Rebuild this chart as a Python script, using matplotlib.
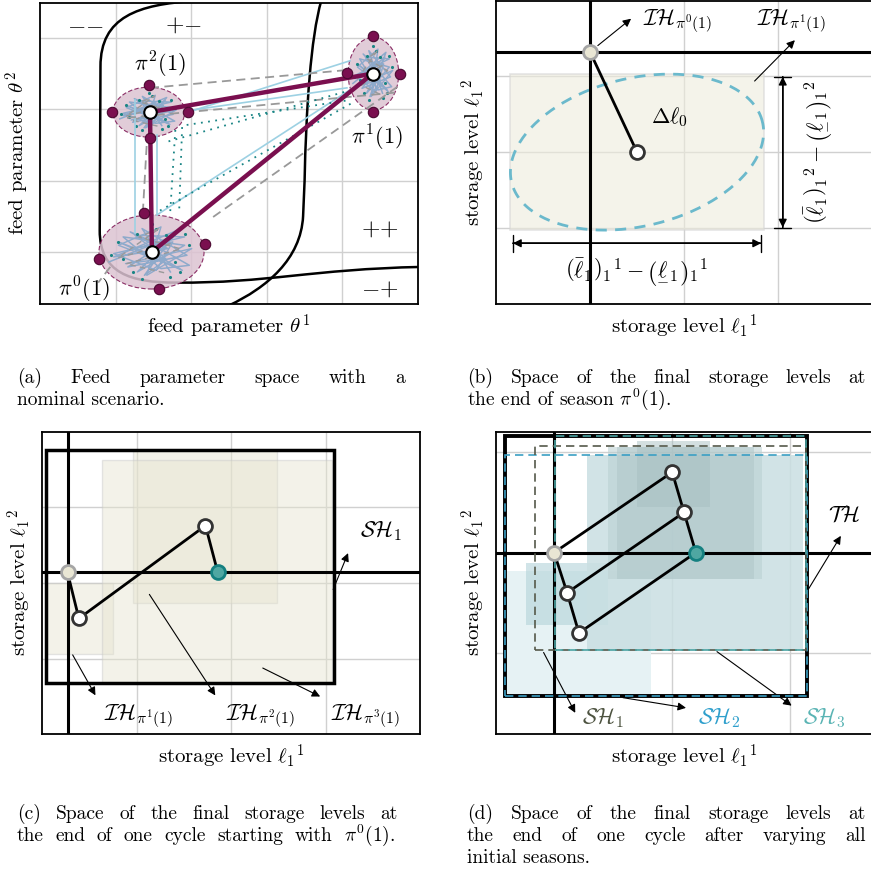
import numpy as np
import matplotlib
matplotlib.use("Agg")
import matplotlib.pyplot as plt
from matplotlib.patches import Rectangle, Ellipse, PathPatch
from matplotlib.path import Path

plt.rcParams['font.family'] = 'cmr10'
plt.rcParams['mathtext.fontset'] = 'cm'
plt.rcParams['axes.unicode_minus'] = False

# ---------------- data ----------------
# (a) feed parameter space: seasons pi0, pi1, pi2
centre_x = [1.48, 4.40, 1.455]
centre_y = [1.00, 3.50, 2.96]
ell_cx = [1.475, 4.41, 1.44]
ell_cy = [1.00, 3.50, 2.96]
ell_w = [1.39, 0.67, 0.95]
ell_h = [1.04, 1.02, 0.70]
sample_x = [[1.376, 2.18, 0.78, 1.574], [4.40, 4.06, 4.76, 4.40], [1.44, 0.95, 1.96, 1.455]]
sample_y = [[1.54, 1.11, 0.90, 0.48], [4.03, 3.51, 3.50, 2.96], [3.34, 2.96, 2.96, 2.60]]
tangle_dx = [-0.9, 0.5, -0.3, 0.7, -0.6, 0.2, 0.8, -0.45, 0.35, -0.8, 0.55, -0.15, 0.3, -0.7, 0.65, 0.0,
             -0.5, 0.75, -0.2, 0.4]
tangle_dy = [-0.3, 0.5, -0.6, 0.2, 0.45, -0.5, -0.4, 0.6, 0.1, -0.15, 0.65, -0.7, -0.25, 0.3, -0.55, 0.0,
             -0.45, -0.1, 0.7, -0.6]
tangle2_dx = [0.6, -0.7, 0.2, -0.1, 0.85, -0.55, 0.3, -0.35, 0.7, -0.8, 0.1, 0.45, -0.25]
tangle2_dy = [-0.5, 0.2, 0.75, -0.7, 0.1, -0.35, -0.2, 0.5, 0.45, -0.05, -0.55, 0.3, 0.15]
dot_dx = [-0.7, -0.4, 0.1, 0.5, 0.8, -0.2, 0.3, -0.6, 0.6, 0.0, -0.3, 0.4, -0.85, 0.7]
dot_dy = [0.3, -0.6, 0.7, -0.3, 0.2, -0.8, 0.5, -0.2, -0.6, 0.85, 0.55, -0.75, -0.1, 0.55]
blue_x = [[1.257, 1.257], [1.548, 1.548], [1.548, 4.14], [1.96, 4.10], [2.01, 4.06]]
blue_y = [[1.26, 3.13], [1.52, 2.64], [1.52, 3.30], [2.96, 3.68], [2.99, 3.30]]
grey_x = [[1.455, 4.06], [1.15, 4.76], [2.29, 4.76], [1.36, 1.415], [0.93, 0.77]]
grey_y = [[3.30, 3.55], [2.88, 3.24], [1.49, 3.34], [1.55, 2.57], [0.79, 0.57]]
teal_x = [[1.94, 4.10], [1.79, 1.72], [1.88, 1.84], [1.587, 4.13], [1.70, 4.05]]
teal_y = [[2.78, 3.13], [2.71, 1.52], [2.75, 1.55], [1.58, 3.09], [2.55, 3.25]]
region_lbl = ['$-$$-$', '$+$$-$', '$+$$+$', '$-$$+$']
region_x = [0.6, 1.89, 4.5, 4.5]
region_y = [4.18, 4.18, 1.31, 0.47]
season_lbl = ['$\\pi^0(1)$', '$\\pi^1(1)$', '$\\pi^2(1)$']
season_lx = [0.58, 4.46, 1.59]
season_ly = [0.47, 2.60, 3.62]

# (b) one season
start_b = (1.0, 3.32)
end_b = (1.5, 2.0)
box_b = (0.15, 0.97, 2.85, 3.03)
ell_b_axes = (129.0, 74.0)      # semi axes in pixels
ell_b_angle = 13.6

# (c) one cycle
cyc_x = [0.27, 0.39, 1.73, 1.86]
cyc_y = [2.14, 1.53, 2.76, 2.14]
ih_c = [(0.04, 1.06, 0.75, 2.00), (0.96, 1.74, 2.49, 3.76), (0.63, 0.67, 3.07, 3.63)]
sh_c = (0.04, 0.67, 3.09, 3.76)

# (d) all initial seasons
pts_x = [1.0, 2.0, 2.1, 2.2, 1.11, 1.21]
pts_y = [2.0, 2.8, 2.4, 2.0, 1.6, 1.2]
th_d = (0.585, 0.573, 3.14, 3.16)
sh1_d = (0.84, 1.03, 3.13, 3.06)
sh2_d = (0.585, 0.573, 3.14, 2.97)
sh3_d = (1.01, 1.03, 3.13, 3.16)
fill_d = [(0.6, 0.58, 1.82, 1.82), (0.76, 1.28, 1.46, 1.90), (1.28, 1.03, 3.11, 2.97),
          (1.46, 1.74, 2.76, 3.05), (1.53, 1.74, 2.69, 3.05), (1.70, 2.45, 2.32, 3.11)]
fill_d_col = ['#e6f2f4', '#b3d3d9', '#c9dfe2', '#b9cfd1', '#aec6c8', '#a8c0c2']
fill_d_alpha = [1.0, 0.6, 0.85, 0.55, 0.5, 0.5]

PURPLE = '#7a0f4f'
TEAL = '#1a8585'

W, H = 871, 872
fig = plt.figure(figsize=(W / 100, H / 100), dpi=100)


def px_axes(l, t, r, b):
    return fig.add_axes([l / W, 1 - b / H, (r - l) / W, (b - t) / H])


def setup(ax, xlim, ylim, xt, yt):
    ax.set_xlim(xlim)
    ax.set_ylim(ylim)
    ax.set_xticks(xt)
    ax.set_yticks(yt)
    ax.tick_params(length=0, labelbottom=False, labelleft=False)
    ax.grid(True, color='#d0d0d0', lw=1)
    ax.set_axisbelow(True)
    for s in ax.spines.values():
        s.set_linewidth(1.3)


def rect(ax, b, **kw):
    ax.add_patch(Rectangle((b[0], b[1]), b[2] - b[0], b[3] - b[1], **kw))


def arrow(ax, p0, p1):
    ax.annotate('', xy=p1, xytext=p0,
                arrowprops=dict(arrowstyle='-|>', color='black', lw=0.8, mutation_scale=12))


def marker(ax, x, y, fc, ec='#333333'):
    ax.plot(x, y, 'o', ms=10, mfc=fc, mec=ec, mew=2, zorder=6)


LBL = 15
TXT = 16
# ---------------- (a) ----------------
ax = px_axes(40, 3, 418, 304)
setup(ax, (0, 5), (0.27, 4.49), [1, 2, 3, 4], [1, 2, 3, 4])

c1 = Path([(2.05, 4.52), (1.3, 4.47), (0.8, 4.3), (0.8, 3.6), (0.79, 1.3),
           (0.79, 0.7), (1.2, 0.57), (1.8, 0.57), (3.0, 0.56), (3.6, 0.76), (5.05, 0.79)],
          [1, 4, 4, 4, 2, 4, 4, 4, 4, 4, 4])
c2 = Path([(3.72, 4.52), (3.58, 4.0), (3.52, 3.0), (3.5, 2.0), (3.48, 1.5),
           (3.45, 0.9), (3.0, 0.5), (2.5, 0.25)], [1, 4, 4, 4, 2, 4, 4, 4])
for c in (c1, c2):
    ax.add_patch(PathPatch(c, fc='none', ec='black', lw=1.8, zorder=2))

for i in range(3):
    ax.add_patch(Ellipse((ell_cx[i], ell_cy[i]), ell_w[i], ell_h[i], fc='#dcc3d2',
                         ec=PURPLE, ls=(0, (4, 2)), lw=0.8, alpha=0.85, zorder=3))
    ax.plot(ell_cx[i] + np.array(tangle_dx) * ell_w[i] * 0.45,
            ell_cy[i] + np.array(tangle_dy) * ell_h[i] * 0.45, color='#8eaacb', lw=1.1, zorder=4)
    ax.plot(ell_cx[i] + np.array(tangle2_dx) * ell_w[i] * 0.45,
            ell_cy[i] + np.array(tangle2_dy) * ell_h[i] * 0.45, color='#8eaacb', lw=1.0, zorder=4)
    ax.plot(ell_cx[i] + np.array(dot_dx) * ell_w[i] * 0.45,
            ell_cy[i] + np.array(dot_dy) * ell_h[i] * 0.45, '.', color=TEAL, ms=2.5, zorder=4)
    ax.plot(ell_cx[i] + np.array(dot_dy[:7]) * ell_w[i] * 0.4,
            ell_cy[i] + np.array(dot_dx[:7]) * ell_h[i] * 0.4, color='#999999', lw=1,
            ls=(0, (4, 3)), zorder=4)

for xs, ys in zip(blue_x, blue_y):
    ax.plot(xs, ys, color='#9dd1e3', lw=1.2, zorder=4)
for xs, ys in zip(grey_x, grey_y):
    ax.plot(xs, ys, color='#999999', lw=1.3, ls=(0, (5, 3)), zorder=4)
for xs, ys in zip(teal_x, teal_y):
    ax.plot(xs, ys, color=TEAL, lw=1.3, ls=(0, (1, 3)), zorder=4)

ax.plot([centre_x[0], centre_x[2], centre_x[1], centre_x[0]],
        [centre_y[0], centre_y[2], centre_y[1], centre_y[0]],
        color=PURPLE, lw=3.2, zorder=5, solid_joinstyle='round')
for i in range(3):
    ax.plot(sample_x[i], sample_y[i], 'o', ms=7.5, mfc=PURPLE, mec='#4a0830', mew=0.8, zorder=6)
ax.plot(centre_x, centre_y, 'o', ms=9, mfc='white', mec='black', mew=1.5, zorder=7)

for t, x, y in zip(region_lbl, region_x, region_y):
    ax.text(x, y, t, fontsize=17, ha='center', va='center')
for t, x, y in zip(season_lbl, season_lx, season_ly):
    ax.text(x, y, t, fontsize=TXT, ha='center', va='center', zorder=8)
ax.set_xlabel('feed parameter $\\theta^1$', fontsize=LBL, labelpad=6)
ax.set_ylabel('feed parameter $\\theta^2$', fontsize=LBL, labelpad=6)

# ---------------- (b) ----------------
ax = px_axes(496, 1, 873, 304)
setup(ax, (0, 4.01), (0, 3.99), [1, 2, 3], [1, 2, 3])
rect(ax, box_b, fc='#eeecdc', ec='#d5d5d5', alpha=0.6, lw=1.2, zorder=2)
t = np.linspace(0, 2 * np.pi, 200)
th = np.deg2rad(ell_b_angle)
a, b = ell_b_axes
ex = end_b[0] + (a * np.cos(t) * np.cos(th) - b * np.sin(t) * np.sin(th)) / 94
ey = end_b[1] + (a * np.cos(t) * np.sin(th) + b * np.sin(t) * np.cos(th)) / 76
ax.plot(ex, ey, color='#6bb9cc', lw=2, ls=(0, (4, 3)), zorder=3)
ax.axvline(start_b[0], color='black', lw=2.2, zorder=3)
ax.axhline(start_b[1], color='black', lw=2.2, zorder=3)
ax.plot([start_b[0], end_b[0]], [start_b[1], end_b[1]], color='black', lw=2, zorder=4)
marker(ax, start_b[0], start_b[1], '#e9e6d4', '#a5a5a5')
marker(ax, end_b[0], end_b[1], 'white')
ax.text(1.65, 2.46, '$\\Delta\\ell_0$', fontsize=TXT, ha='left', va='center')
arrow(ax, (1.06, 3.38), (1.46, 3.78))
arrow(ax, (2.73, 2.91), (3.2, 3.5))
ax.text(1.56, 3.72, '$\\mathcal{IH}_{\\pi^0(1)}$', fontsize=TXT, ha='left', va='center')
ax.text(2.78, 3.72, '$\\mathcal{IH}_{\\pi^1(1)}$', fontsize=TXT, ha='left', va='center')
for p0, p1 in [((box_b[0], 0.80), (box_b[2], 0.80)), ((3.05, box_b[1]), (3.05, box_b[3]))]:
    ax.annotate('', xy=p1, xytext=p0,
                arrowprops=dict(arrowstyle='|-|', color='black', lw=1, mutation_scale=6))
    ax.annotate('', xy=p1, xytext=p0,
                arrowprops=dict(arrowstyle='-|>', color='black', lw=1, mutation_scale=12))
    ax.annotate('', xy=p0, xytext=p1,
                arrowprops=dict(arrowstyle='-|>', color='black', lw=1, mutation_scale=12))
ax.text(1.5, 0.42, '$\\left(\\bar{\\ell}_1\\right)_1{}^1 - \\left(\\underset{-}{\\ell}_1\\right)_1{}^1$',
        fontsize=TXT, ha='center', va='center')
ax.text(3.43, 2.0, '$\\left(\\bar{\\ell}_1\\right)_1{}^2 - \\left(\\underset{-}{\\ell}_1\\right)_1{}^2$',
        fontsize=TXT, ha='center', va='center', rotation=90)
ax.set_xlabel('storage level $\\ell_1{}^1$', fontsize=LBL, labelpad=6)
ax.set_ylabel('storage level $\\ell_1{}^2$', fontsize=LBL, labelpad=6)

# ---------------- (c) ----------------
ax = px_axes(42, 432, 420, 734)
setup(ax, (0, 4), (0, 4), [1, 2, 3], [1, 2, 3])
for bx in ih_c:
    rect(ax, bx, fc='#e6e4cf', ec='#c8c8c8', alpha=0.45, lw=1, zorder=2)
rect(ax, sh_c, fc='none', ec='black', lw=2.5, zorder=3)
ax.axvline(cyc_x[0], color='black', lw=2.2, zorder=3)
ax.axhline(cyc_y[0], color='black', lw=2.2, zorder=3)
ax.plot(cyc_x, cyc_y, color='black', lw=2, zorder=4)
marker(ax, cyc_x[0], cyc_y[0], '#e9e6d4', '#a5a5a5')
marker(ax, cyc_x[1], cyc_y[1], 'white')
marker(ax, cyc_x[2], cyc_y[2], 'white')
marker(ax, cyc_x[3], cyc_y[3], '#4fa7a2', '#148080')
arrow(ax, (0.31, 1.08), (0.58, 0.48))
arrow(ax, (1.12, 1.88), (1.85, 0.48))
arrow(ax, (2.31, 0.89), (2.97, 0.48))
arrow(ax, (3.07, 1.88), (3.25, 2.43))
for lx, k in zip([0.66, 1.95, 3.06], [1, 2, 3]):
    ax.text(lx, 0.24, '$\\mathcal{IH}_{\\pi^%d(1)}$' % k, fontsize=TXT, ha='left', va='center')
ax.text(3.36, 2.69, '$\\mathcal{SH}_1$', fontsize=TXT, ha='left', va='center')
ax.set_xlabel('storage level $\\ell_1{}^1$', fontsize=LBL, labelpad=6)
ax.set_ylabel('storage level $\\ell_1{}^2$', fontsize=LBL, labelpad=6)

# ---------------- (d) ----------------
ax = px_axes(496, 432, 873, 734)
setup(ax, (0.508, 3.70), (0.194, 3.2), [1, 2, 3], [1, 2, 3])
for bx, c, al in zip(fill_d, fill_d_col, fill_d_alpha):
    rect(ax, bx, fc=c, ec='none', alpha=al, zorder=2)
rect(ax, th_d, fc='none', ec='black', lw=2.8, zorder=3)
rect(ax, sh2_d, fc='none', ec='#3b9fc4', lw=1.2, ls=(0, (5, 3)), zorder=4)
rect(ax, sh1_d, fc='none', ec='#55594a', lw=1.2, ls=(0, (5, 3)), zorder=4)
rect(ax, sh3_d, fc='none', ec='#4aa3a3', lw=1.2, ls=(0, (5, 3)), zorder=4)
ax.axvline(pts_x[0], color='black', lw=2.2, zorder=3)
ax.axhline(pts_y[0], color='black', lw=2.2, zorder=3)
ax.plot([pts_x[i] for i in (0, 1, 2, 3)], [pts_y[i] for i in (0, 1, 2, 3)], color='black', lw=2, zorder=5)
ax.plot([pts_x[i] for i in (0, 4, 5, 3)], [pts_y[i] for i in (0, 4, 5, 3)], color='black', lw=2, zorder=5)
ax.plot([pts_x[4], pts_x[2]], [pts_y[4], pts_y[2]], color='black', lw=2, zorder=5)
marker(ax, pts_x[0], pts_y[0], '#e9e6d4', '#a5a5a5')
for i in (1, 2, 4, 5):
    marker(ax, pts_x[i], pts_y[i], 'white')
marker(ax, pts_x[3], pts_y[3], '#4fa7a2', '#148080')
arrow(ax, (3.14, 1.61), (3.44, 2.19))
arrow(ax, (0.9, 1.03), (1.19, 0.38))
arrow(ax, (1.56, 0.56), (2.14, 0.45))
arrow(ax, (2.36, 1.03), (3.03, 0.46))
ax.text(3.45, 2.37, '$\\mathcal{TH}$', fontsize=TXT, ha='center', va='center')
ax.text(1.24, 0.35, '$\\mathcal{SH}_1$', fontsize=TXT, ha='left', va='center', color='#4d5340')
ax.text(2.22, 0.35, '$\\mathcal{SH}_2$', fontsize=TXT, ha='left', va='center', color='#2e9fcc')
ax.text(3.11, 0.35, '$\\mathcal{SH}_3$', fontsize=TXT, ha='left', va='center', color='#5ab4b4')
ax.set_xlabel('storage level $\\ell_1{}^1$', fontsize=LBL, labelpad=6)
ax.set_ylabel('storage level $\\ell_1{}^2$', fontsize=LBL, labelpad=6)

# ---------------- captions ----------------
CAP = 14
renderer = fig.canvas.get_renderer()


def cap(x0, y, s, x1=None):
    if x1 is None:
        fig.text(x0 / W, 1 - y / H, s, fontsize=CAP, ha='left', va='baseline')
        return
    words = s.split(' ')
    texts = [fig.text(0, 1 - y / H, w, fontsize=CAP, ha='left', va='baseline') for w in words]
    widths = [tx.get_window_extent(renderer).width for tx in texts]
    gap = (x1 - x0 - sum(widths)) / (len(words) - 1)
    x = x0
    for tx, w in zip(texts, widths):
        tx.set_x(x / W)
        x += w + gap


cap(17, 383, '(a) Feed parameter space with a', 405)
cap(17, 405, 'nominal scenario.')
cap(467, 383, '(b) Space of the final storage levels at', 866)
cap(467, 405, 'the end of season $\\pi^0(1)$.')
cap(17, 819, '(c) Space of the final storage levels at', 398)
cap(17, 841, 'the end of one cycle starting with $\\pi^0(1)$.', 395)
cap(467, 819, '(d) Space of the final storage levels at', 866)
cap(467, 841, 'the end of one cycle after varying all', 866)
cap(467, 863, 'initial seasons.')

fig.savefig('out.png', dpi=100)
